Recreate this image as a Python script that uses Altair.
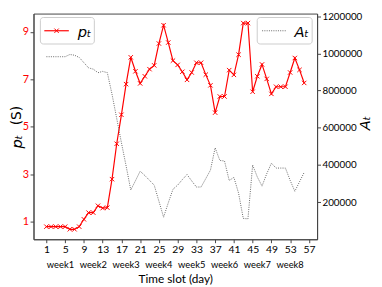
import altair as alt
import pandas as pd

# ---- data ----
days = list(range(1, 57))
price = [0.80, 0.80, 0.80, 0.80, 0.80, 0.69, 0.69, 0.80, 1.11, 1.39,
         1.39, 1.68, 1.58, 1.60, 2.80, 4.29, 5.51, 6.80, 7.93, 7.34,
         6.83, 7.13, 7.43, 7.59, 8.51, 9.28, 8.55, 7.79, 7.61, 7.32,
         6.98, 7.29, 7.70, 7.70, 7.20, 6.75, 5.60, 6.28, 6.28, 7.39,
         7.19, 8.04, 9.37, 9.37, 6.48, 7.13, 7.63, 7.02, 6.39, 6.69,
         6.69, 6.69, 7.29, 7.90, 7.40, 6.85]
users = [982000, 982000, 982000, 982000, 982000, 994000, 990000, 978000, 950000, 922000,
         915000, 896000, 903000, 896000, 780000, 650000, 520000, 395000, 265000, 315000,
         366000, 343000, 317000, 291000, 205000, 119000, 196000, 269000, 291000, 321000,
         348000, 314000, 281000, 281000, 326000, 372000, 492000, 424000, 421000, 316000,
         333000, 248000, 112000, 110000, 399000, 335000, 286000, 352000, 409000, 383000,
         383000, 383000, 317000, 258000, 309000, 360000]
tick_days = [1, 5, 9, 13, 17, 21, 25, 29, 33, 37, 41, 45, 49, 53, 57]
week_days = [4, 11, 18, 25, 32, 39, 46, 53]
week_names = ["week1", "week2", "week3", "week4", "week5", "week6", "week7", "week8"]
price_ticks = [1, 3, 5, 7, 9]
user_ticks = [200000, 400000, 600000, 800000, 1000000, 1200000]
price_name = "pₜ"
users_name = "Aₜ"
x_title = "Time slot (day)"
left_title_sym = "pₜ"
left_title_unit = "(S)"
right_title = "Aₜ"

W, H = 289, 230
FRAME = "#444444"
RED = "#ff0000"
GRAY = "#555555"

df = pd.DataFrame({"day": days, "price": price, "users": users})
wk = pd.DataFrame({"day": week_days, "name": week_names})
one = pd.DataFrame({"k": [0]})

xscale = alt.Scale(domain=[-1.75, 58.75], nice=False, zero=False)
xaxis = alt.Axis(values=tick_days, title=x_title, grid=False,
                 labelFont="Lato", labelFontSize=10.5, labelColor="black", labelPadding=2,
                 tickSize=3.5, tickColor=FRAME, domainColor=FRAME,
                 titleFont="Lato", titleFontSize=12, titleFontWeight="normal",
                 titleColor="black", titleY=35, titleBaseline="top")
X = alt.X("day:Q", scale=xscale, axis=xaxis)

xmark = "M-1,-1L1,1M-1,1L1,-1"

red_base = alt.Chart(df).encode(
    x=X,
    y=alt.Y("price:Q", scale=alt.Scale(domain=[0.27, 9.77], nice=False, zero=False),
            axis=alt.Axis(orient="left", values=price_ticks, title=None, grid=False,
                          labelFont="Lato", labelFontSize=11, labelColor=RED,
                          labelPadding=1.5, tickSize=3.5, tickColor=FRAME,
                          domainColor=FRAME)),
)
red = alt.layer(
    red_base.mark_line(strokeWidth=1.2, color=RED),
    red_base.mark_point(shape=xmark, size=20, filled=False, strokeWidth=1,
                        opacity=1, color=RED),
)

gray = alt.Chart(df).mark_line(strokeWidth=0.9, strokeDash=[1, 1.3], color=GRAY).encode(
    x=X,
    y=alt.Y("users:Q", scale=alt.Scale(domain=[0, 1214000], nice=False, zero=False),
            axis=alt.Axis(orient="right", values=user_ticks, format="d", title=None,
                          grid=False, labelFont="Lato", labelFontSize=10,
                          labelColor="black", labelPadding=1.5, tickSize=3.5,
                          tickColor=FRAME, domainColor=FRAME)),
)

weeks = alt.Chart(wk).mark_text(font="Lato", fontSize=9.5, baseline="middle",
                                color="black").encode(
    x=X, y=alt.value(H + 26), text="name:N")

def vtext(txt, x, y, size, italic=False):
    kw = dict(font="DejaVu Sans", fontSize=size, angle=270, baseline="middle",
              align="center", color="black")
    if italic:
        kw["fontStyle"] = "italic"
    return alt.Chart(pd.DataFrame({"t": [txt]})).mark_text(**kw).encode(
        text="t:N", x=alt.value(x), y=alt.value(y))

t_sym = vtext(left_title_sym, -17, 130.5, 15, True)
t_unit = vtext(left_title_unit, -17, 104, 14)
t_right = vtext(right_title, 338, 111.5, 15, True)

# ---- legends (two boxed legends, as in the reference) ----
def legend(x0, x1, lx0, lx1, tx, label, dotted, marker):
    box = alt.Chart(one).mark_rect(fill="white", stroke="#cccccc", strokeWidth=1,
                                   cornerRadius=3).encode(
        x=alt.value(x0), x2=alt.value(x1), y=alt.value(4), y2=alt.value(31))
    kw = dict(strokeWidth=0.9, strokeDash=[1, 1.3], color=GRAY) if dotted else \
        dict(strokeWidth=1.2, color=RED)
    ln = alt.Chart(one).mark_rule(**kw).encode(
        x=alt.value(lx0), x2=alt.value(lx1), y=alt.value(17.5))
    txt = alt.Chart(pd.DataFrame({"t": [label]})).mark_text(
        font="DejaVu Sans", fontStyle="italic", fontSize=15, align="left",
        baseline="middle", color="black").encode(
        text="t:N", x=alt.value(tx), y=alt.value(18.5))
    parts = [box, ln]
    if marker:
        parts.append(alt.Chart(one).mark_point(shape=xmark, size=20, filled=False,
                                               strokeWidth=1, opacity=1, color=RED).encode(
            x=alt.value((lx0 + lx1) / 2), y=alt.value(17.5)))
    parts.append(txt)
    return parts

leg_left = legend(7, 62, 11, 36, 45, price_name, False, True)
leg_right = legend(228, 284, 233, 257, 266, users_name, True, False)

chart = alt.layer(red, gray, weeks, t_sym, t_unit, t_right, *leg_left, *leg_right).resolve_scale(
    y="independent"
).properties(
    width=W, height=H,
    autosize=alt.AutoSizeParams(type="none"),
    padding={"left": 26, "top": 3, "right": 58, "bottom": 48},
).configure_view(stroke=FRAME, strokeWidth=1).configure_axis(domainWidth=1, tickWidth=1)

chart.save("out.html", embed_options={"renderer": "svg", "actions": False})
